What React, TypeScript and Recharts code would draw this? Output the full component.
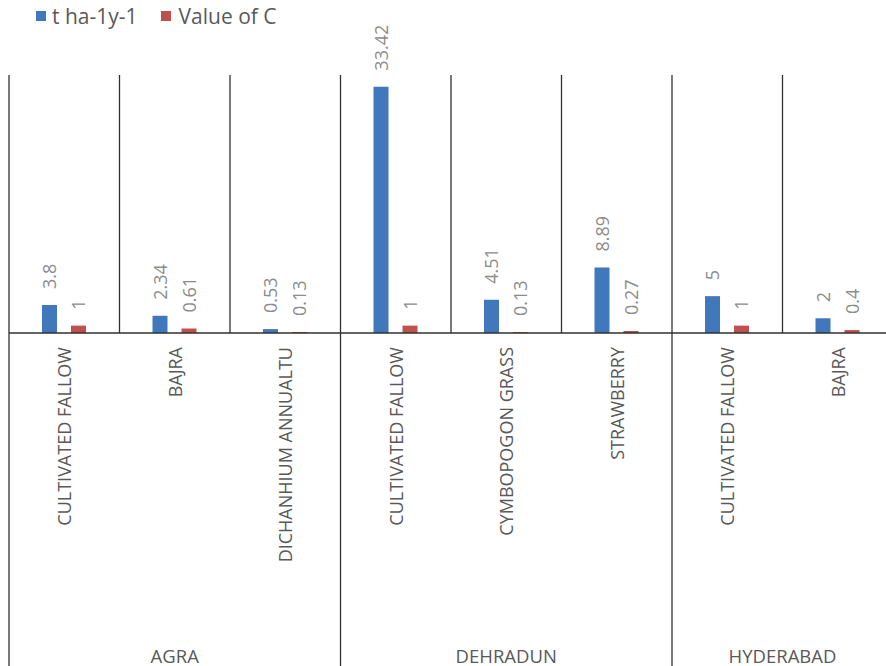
import React from 'react';
import { BarChart, Bar, XAxis, YAxis, LabelList } from 'recharts';

const categories = ['CULTIVATED FALLOW', 'BAJRA', 'DICHANHIUM ANNUALTU', 'CULTIVATED FALLOW', 'CYMBOPOGON GRASS', 'STRAWBERRY', 'CULTIVATED FALLOW', 'BAJRA'];
const groups = ['AGRA', 'DEHRADUN', 'HYDERABAD'];
const groupSizes = [3, 3, 2];
const tValues = [3.8, 2.34, 0.53, 33.42, 4.51, 8.89, 5, 2];
const cValues = [1, 0.61, 0.13, 1, 0.13, 0.27, 1, 0.4];
const seriesNames = ['t ha-1y-1', 'Value of C'];

const groupStart: Record<number, number> = {};
{
  let s = 0;
  groupSizes.forEach((n, gi) => {
    groupStart[s] = gi;
    s += n;
  });
}

const data = categories.map((cat, i) => ({
  key: `${i}`,
  cat,
  t: tValues[i],
  c: cValues[i],
}));

const W = 900;
const H = 700;
const M = { top: 75, right: 7, bottom: 7, left: 9 };
const AXIS_H = 360;
const PLOT_W = W - M.left - M.right;
const PLOT_H = H - M.top - M.bottom - AXIS_H;
const BW = PLOT_W / categories.length;

const BLUE = '#4177BB';
const RED = '#C0504D';
const LINE = '#303030';
const TEXT = '#595959';
const LABEL = '#8C8C8C';
const FONT = 'Open Sans, Noto Sans, sans-serif';

const CategoryTick = (props: any) => {
  const { x, y, payload, index } = props;
  const i = typeof index === 'number' ? index : Number(payload.value);
  const left = x - BW / 2;
  const gi = groupStart[i];
  return (
    <g>
      <line x1={left} x2={left} y1={y - PLOT_H} y2={y} stroke={LINE} strokeWidth={1.3} />
      {gi !== undefined && (
        <>
          <line x1={left} x2={left} y1={y} y2={y + 420} stroke={LINE} strokeWidth={1.3} />
          <text
            x={left + (groupSizes[gi] * BW) / 2}
            y={y + 322}
            textAnchor="middle"
            dominantBaseline="central"
            fill={TEXT}
            fontSize={18.5}
            fontFamily={FONT}
          >
            {groups[gi]}
          </text>
        </>
      )}
      <text
        x={x}
        y={y + 14}
        transform={`rotate(-90, ${x}, ${y + 14})`}
        textAnchor="end"
        dominantBaseline="central"
        fill={TEXT}
        fontSize={18}
        fontFamily={FONT}
      >
        {categories[i]}
      </text>
    </g>
  );
};

const BarLabel = (props: any) => {
  const { x, y, width, value } = props;
  const cx = Number(x) + Number(width) / 2;
  const ty = Number(y) - 16;
  return (
    <text
      x={cx}
      y={ty}
      transform={`rotate(-90, ${cx}, ${ty})`}
      textAnchor="start"
      dominantBaseline="central"
      fill={LABEL}
      fontSize={18}
      fontFamily={FONT}
    >
      {String(value)}
    </text>
  );
};

const Legend = () => (
  <div
    style={{
      position: 'absolute',
      left: 36,
      top: 2,
      display: 'flex',
      alignItems: 'center',
      fontFamily: FONT,
      fontSize: 21,
      color: TEXT,
      whiteSpace: 'nowrap',
    }}
  >
    <span style={{ display: 'inline-block', width: 10, height: 10, background: BLUE, marginRight: 6 }} />
    <span style={{ marginRight: 23 }}>{seriesNames[0]}</span>
    <span style={{ display: 'inline-block', width: 10, height: 10, background: RED, marginRight: 8 }} />
    <span>{seriesNames[1]}</span>
  </div>
);

export default function App() {
  return (
    <div
      style={{
        position: 'fixed',
        left: 0,
        top: 0,
        width: 886,
        height: 666,
        overflow: 'hidden',
        background: '#fff',
      }}
    >
      <BarChart width={W} height={H} data={data} margin={M} barSize={15} barGap={14}>
        <XAxis
          dataKey="key"
          height={AXIS_H}
          interval={0}
          tickLine={false}
          tickSize={0}
          tickMargin={0}
          axisLine={{ stroke: LINE, strokeWidth: 1.3 }}
          tick={<CategoryTick />}
        />
        <YAxis hide domain={[0, 35]} />
        <Bar dataKey="t" name={seriesNames[0]} fill={BLUE} isAnimationActive={false}>
          <LabelList dataKey="t" content={<BarLabel />} />
        </Bar>
        <Bar dataKey="c" name={seriesNames[1]} fill={RED} isAnimationActive={false}>
          <LabelList dataKey="c" content={<BarLabel />} />
        </Bar>
      </BarChart>
      <Legend />
    </div>
  );
}
